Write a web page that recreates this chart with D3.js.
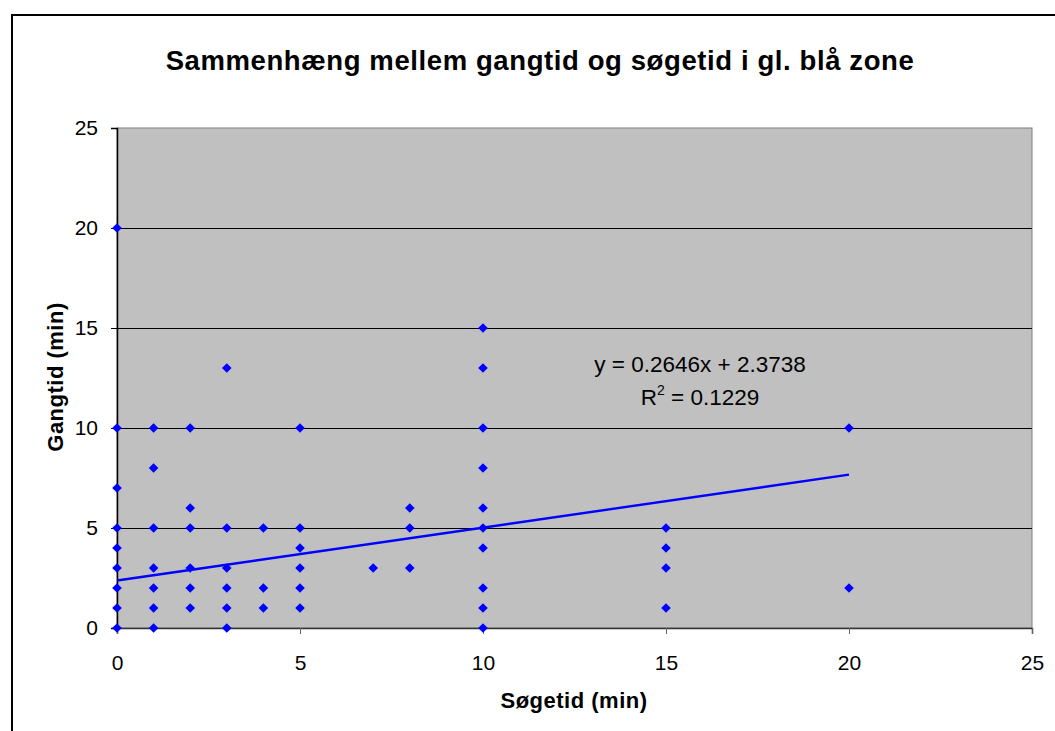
<!DOCTYPE html>
<html><head><meta charset="utf-8">
<script src="https://cdn.jsdelivr.net/npm/d3@7"></script>
<style>
html,body{margin:0;padding:0;background:#fff;}
svg text{font-family:"Liberation Sans",Arial,sans-serif;}
</style></head>
<body>
<svg id="chart" width="1055" height="731"></svg>
<script>
const titleText = "Sammenhæng mellem gangtid og søgetid i gl. blå zone";
const xLabel = "Søgetid (min)";
const yLabel = "Gangtid (min)";
const xTicks = [0, 5, 10, 15, 20, 25];
const yTicks = [0, 5, 10, 15, 20, 25];
const soegetid = [0,0,0,0,0,0,0,0,0, 1,1,1,1,1,1,1, 2,2,2,2,2,2, 3,3,3,3,3,3, 4,4,4, 5,5,5,5,5,5, 7, 8,8,8, 10,10,10,10,10,10,10,10,10,10, 15,15,15,15, 20,20];
const gangtid  = [20,10,7,5,4,3,2,1,0, 10,8,5,3,2,1,0, 10,6,5,3,2,1, 13,5,3,2,1,0, 5,2,1, 10,5,4,3,2,1, 3, 6,5,3, 15,13,10,8,6,5,4,2,1,0, 5,4,3,1, 10,2];
const trendSlope = 0.2646;
const trendIntercept = 2.3738;
const trendRange = [0, 20];
const eqLine1 = "y = 0.2646x + 2.3738";
const r2Value = "0.1229";

const svg = d3.select("#chart");
const L = 117, R = 1032, T = 128, B = 628;
const x = d3.scaleLinear().domain([0, 25]).range([L, R]);
const y = d3.scaleLinear().domain([0, 25]).range([B, T]);

// outer chart border
svg.append("rect").attr("x", 12).attr("y", 15).attr("width", 1060).attr("height", 740)
  .attr("fill", "#fff").attr("stroke", "#000").attr("stroke-width", 2);

// plot area
svg.append("rect").attr("x", L).attr("y", T).attr("width", R - L).attr("height", B - T)
  .attr("fill", "#c0c0c0").attr("stroke", "#808080").attr("stroke-width", 1);

// gridlines
svg.append("g").selectAll("line").data(yTicks.filter(d => d > 0 && d < 25)).join("line")
  .attr("x1", L).attr("x2", R).attr("y1", d => Math.round(y(d)) + 0.5).attr("y2", d => Math.round(y(d)) + 0.5)
  .attr("stroke", "#000").attr("stroke-width", 1);

// axes
const xAxis = svg.append("g").attr("transform", `translate(0,${B})`)
  .call(d3.axisBottom(x).tickValues(xTicks).tickSize(6).tickPadding(21));
const yAxis = svg.append("g").attr("transform", `translate(${L},0)`)
  .call(d3.axisLeft(y).tickValues(yTicks).tickSize(6).tickPadding(13));
[xAxis, yAxis].forEach(a => {
  a.select(".domain").attr("stroke", "#000").attr("stroke-width", 1.5);
  a.selectAll(".tick line").attr("stroke", "#000");
  a.selectAll(".tick text").attr("font-size", 21).attr("fill", "#000")
    .style("font-family", '"Liberation Sans",Arial,sans-serif');
});
xAxis.select(".domain").attr("stroke", "#333");
xAxis.selectAll(".tick line").attr("stroke", "#666");

// trendline
svg.append("line")
  .attr("x1", x(trendRange[0])).attr("y1", y(trendSlope * trendRange[0] + trendIntercept))
  .attr("x2", x(trendRange[1])).attr("y2", y(trendSlope * trendRange[1] + trendIntercept))
  .attr("stroke", "#0000ff").attr("stroke-width", 2.4);

// points
const diamond = "M0,-4.8L4.8,0L0,4.8L-4.8,0Z";
svg.append("g").selectAll("path").data(d3.range(soegetid.length)).join("path")
  .attr("d", diamond)
  .attr("transform", i => `translate(${x(soegetid[i])},${y(gangtid[i])})`)
  .attr("fill", "#0000ff");

// equation
svg.append("text").attr("x", 700).attr("y", 372).attr("text-anchor", "middle")
  .attr("font-size", 22.5).attr("fill", "#000").text(eqLine1);
const r2 = svg.append("text").attr("x", 700).attr("y", 405).attr("text-anchor", "middle")
  .attr("font-size", 22.5).attr("fill", "#000");
r2.append("tspan").text("R");
r2.append("tspan").attr("font-size", 14).attr("dy", -10).text("2");
r2.append("tspan").attr("dy", 10).text(" = " + r2Value);

// title
svg.append("text").attr("x", 540).attr("y", 70).attr("text-anchor", "middle")
  .attr("font-size", 27.5).attr("font-weight", "bold").attr("letter-spacing", 0.6)
  .attr("fill", "#000").text(titleText);

// axis titles
svg.append("text").attr("x", 574).attr("y", 708).attr("text-anchor", "middle")
  .attr("font-size", 22).attr("font-weight", "bold").attr("letter-spacing", 0.5)
  .attr("fill", "#000").text(xLabel);
svg.append("text").attr("transform", "translate(63,377) rotate(-90)").attr("text-anchor", "middle")
  .attr("font-size", 22).attr("font-weight", "bold").attr("letter-spacing", 0.5)
  .attr("fill", "#000").text(yLabel);
</script>
</body></html>
